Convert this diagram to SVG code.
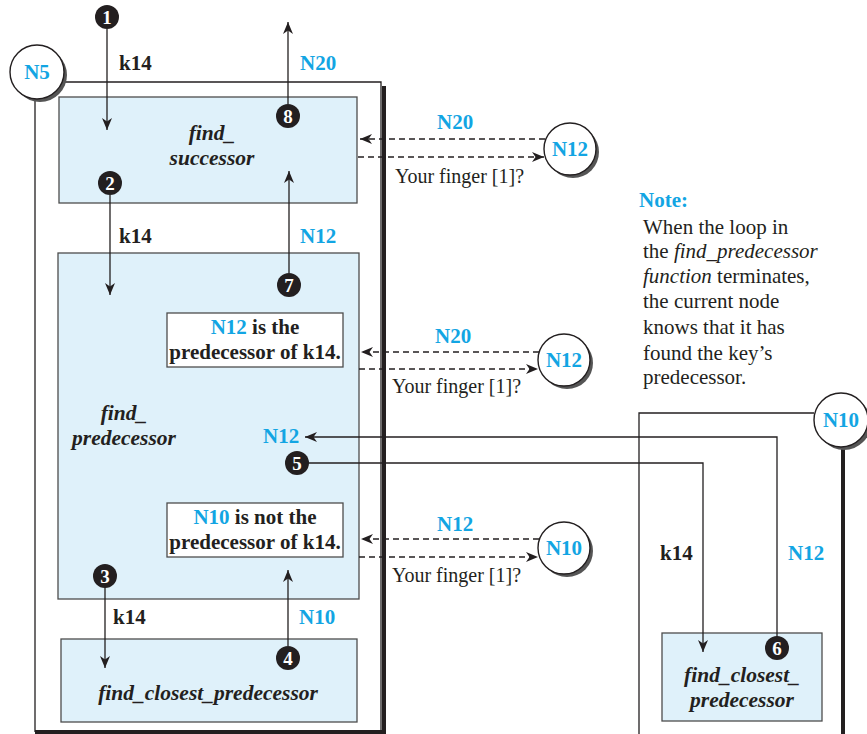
<svg xmlns="http://www.w3.org/2000/svg" width="867" height="734" viewBox="0 0 867 734">
<style>
.t{font-family:"Liberation Serif","Times New Roman",serif;fill:#231f20}
.b{font-weight:bold;font-size:21px}
.bi{font-weight:bold;font-style:italic;font-size:21.5px}
.c{fill:#12a5e3}
.r{font-size:20px}
.n{font-size:21px}
.box{fill:#dff1fa;stroke:#4d4d4d;stroke-width:1.3}
.wbox{fill:#fff;stroke:#4d4d4d;stroke-width:1.3}
.ln{fill:none;stroke:#231f20;stroke-width:1.3}
.thick{fill:none;stroke:#231f20;stroke-width:4}
.dash{fill:none;stroke:#231f20;stroke-width:1.3;stroke-dasharray:6 4}
.shadow{fill:#555}
.node{fill:#fff;stroke:#231f20;stroke-width:1.4}
.num{fill:#231f20}
.numt{font-family:"Liberation Serif",serif;font-weight:bold;font-size:19px;fill:#fff;text-anchor:middle}
</style>
<defs>
<marker id="ah" viewBox="0 0 12 10" refX="12" refY="5" markerWidth="12" markerHeight="10" orient="auto" markerUnits="userSpaceOnUse">
<path d="M0,0 L12,5 L0,10 L3.5,5 z" fill="#231f20"/>
</marker>
</defs>

<!-- Host N5 -->
<g id="hostN5">
<path class="thick" d="M384,86 V734 M35,732 H386"/>
<path class="ln" d="M62,82 H381 V732 M35,99 V732"/>
<circle class="shadow" cx="40" cy="75" r="27"/>
<circle class="node" cx="37" cy="72" r="27"/>
<text class="t b c" x="37" y="79" text-anchor="middle">N5</text>
</g>

<!-- Host N10 -->
<g id="hostN10">
<path class="thick" d="M843,447 V734"/>
<path class="ln" d="M814,413 H639 V734"/>
<circle class="shadow" cx="844" cy="423" r="27"/>
<circle class="node" cx="841" cy="420" r="27"/>
<text class="t b c" x="841" y="427" text-anchor="middle">N10</text>
</g>

<g id="find_successor">
<rect class="box" x="59" y="97" width="298" height="106"/>
<text class="t bi" x="212" y="140" text-anchor="middle">find_</text>
<text class="t bi" x="212" y="165" text-anchor="middle">successor</text>
</g>

<g id="find_predecessor">
<rect class="box" x="58" y="253" width="301" height="346"/>
<text class="t bi" x="124" y="420" text-anchor="middle">find_</text>
<text class="t bi" x="124" y="445" text-anchor="middle">predecessor</text>
</g>

<g id="msg1">
<rect class="wbox" x="167" y="313" width="176" height="54"/>
<text class="t b" x="255" y="334" text-anchor="middle"><tspan class="c">N12</tspan> is the</text>
<text class="t b" x="255" y="359" text-anchor="middle">predecessor of k14.</text>
</g>

<g id="msg2">
<rect class="wbox" x="167" y="503" width="176" height="54"/>
<text class="t b" x="255" y="524" text-anchor="middle"><tspan class="c">N10</tspan> is not the</text>
<text class="t b" x="255" y="549" text-anchor="middle">predecessor of k14.</text>
</g>

<g id="find_closest_predecessor">
<rect class="box" x="61" y="639" width="296" height="83"/>
<text class="t bi" x="208" y="700" text-anchor="middle">find_closest_predecessor</text>
</g>

<g id="find_closest_predecessor_N10">
<rect class="box" x="662" y="633" width="160" height="88"/>
<text class="t bi" x="742" y="682" text-anchor="middle">find_closest_</text>
<text class="t bi" x="742" y="707" text-anchor="middle">predecessor</text>
</g>

<g id="N12a">
<circle class="shadow" cx="573" cy="152" r="26"/>
<circle class="node" cx="570" cy="149" r="26"/>
<text class="t b c" x="570" y="156" text-anchor="middle">N12</text>
</g>
<g id="N12b">
<circle class="shadow" cx="567" cy="363" r="26"/>
<circle class="node" cx="564" cy="360" r="26"/>
<text class="t b c" x="564" y="367" text-anchor="middle">N12</text>
</g>
<g id="N10b">
<circle class="shadow" cx="567" cy="551" r="26"/>
<circle class="node" cx="564" cy="548" r="26"/>
<text class="t b c" x="564" y="555" text-anchor="middle">N10</text>
</g>

<g id="connectors">
<path class="ln" marker-end="url(#ah)" d="M107,29 V130"/>
<path class="ln" marker-end="url(#ah)" d="M288,104 V22"/>
<path class="ln" marker-end="url(#ah)" d="M110,195 V295"/>
<path class="ln" marker-end="url(#ah)" d="M289,273 V171"/>
<path class="ln" marker-end="url(#ah)" d="M105,587 V668"/>
<path class="ln" marker-end="url(#ah)" d="M288,646 V570"/>
<path class="ln" marker-end="url(#ah)" d="M777,637 V437 H305"/>
<path class="ln" marker-end="url(#ah)" d="M308,463 H703 V652"/>
<path class="dash" marker-end="url(#ah)" d="M545,139 H360"/>
<path class="dash" marker-end="url(#ah)" d="M358,157 H544"/>
<path class="dash" marker-end="url(#ah)" d="M539,352 H361"/>
<path class="dash" marker-end="url(#ah)" d="M359,369 H538"/>
<path class="dash" marker-end="url(#ah)" d="M539,539 H361"/>
<path class="dash" marker-end="url(#ah)" d="M359,557 H538"/>
</g>

<g id="steps">
<circle class="num" cx="107" cy="17" r="12"/><text class="numt" x="107" y="24">1</text>
<circle class="num" cx="110" cy="183" r="12"/><text class="numt" x="110" y="190">2</text>
<circle class="num" cx="105" cy="576" r="12"/><text class="numt" x="105" y="583">3</text>
<circle class="num" cx="288" cy="658" r="12"/><text class="numt" x="288" y="665">4</text>
<circle class="num" cx="297" cy="463" r="12"/><text class="numt" x="297" y="470">5</text>
<circle class="num" cx="777" cy="648" r="12"/><text class="numt" x="777" y="655">6</text>
<circle class="num" cx="289" cy="285" r="12"/><text class="numt" x="289" y="292">7</text>
<circle class="num" cx="288" cy="116" r="12"/><text class="numt" x="288" y="123">8</text>
</g>

<g id="labels">
<text class="t b" x="119" y="70">k14</text>
<text class="t b c" x="300" y="70">N20</text>
<text class="t b" x="119" y="243">k14</text>
<text class="t b c" x="300" y="243">N12</text>
<text class="t b" x="113" y="624">k14</text>
<text class="t b c" x="299" y="624">N10</text>
<text class="t b c" x="263" y="443">N12</text>
<text class="t b" x="660" y="560">k14</text>
<text class="t b c" x="788" y="560">N12</text>
<text class="t b c" x="437" y="129">N20</text>
<text class="t r" x="395" y="183">Your finger [1]?</text>
<text class="t b c" x="435" y="343">N20</text>
<text class="t r" x="392" y="393">Your finger [1]?</text>
<text class="t b c" x="437" y="531">N12</text>
<text class="t r" x="392" y="582">Your finger [1]?</text>
</g>

<g id="note">
<text class="t b c" x="639" y="207">Note:</text>
<text class="t n" x="643" y="234">When the loop in</text>
<text class="t n" x="643" y="258">the <tspan font-style="italic">find_predecessor</tspan></text>
<text class="t n" x="643" y="283"><tspan font-style="italic">function</tspan> terminates,</text>
<text class="t n" x="643" y="308">the current node</text>
<text class="t n" x="643" y="334">knows that it has</text>
<text class="t n" x="643" y="360">found the key’s</text>
<text class="t n" x="643" y="384">predecessor.</text>
</g>
</svg>
